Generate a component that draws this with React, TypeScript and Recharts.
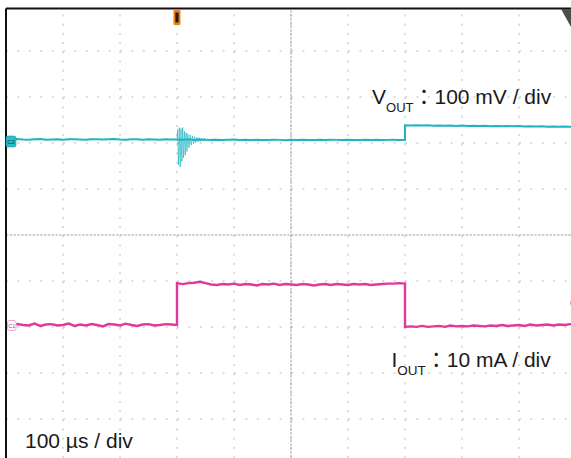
import React from "react";
import { LineChart, Line, XAxis, YAxis, CartesianGrid, ReferenceLine, ReferenceDot } from "recharts";

// ---- time axis (µs), 100 µs / div ----
const X_DOMAIN = [-300, 700];
const X_TICKS = [-300, -200, -100, 0, 100, 200, 300, 400, 500, 600, 700];
const X_CENTER = 200;

// ---- division axis (screen grid) ----
const DIV_DOMAIN = [-5, 4.924];
const DIV_TICKS = [-5, -4, -3, -2, -1, 1, 2, 3, 4];

// ---- channel scales ----
const VOUT_DOMAIN = [-707.6, 284.8]; // mV, 100 mV / div
const IOUT_DOMAIN = [-30.43, 68.8]; // mA, 10 mA / div

// ---- VOUT trace (mV, relative to channel offset) ----
const vTimes = [
  -300, -290, -280, -270, -260, -250, -240, -230, -220, -210, -200, -190, -180, -170, -160,
  -150, -140, -130, -120, -110, -100, -90, -80, -70, -60, -50, -40, -30, -20, -10,
  0, 10, 20, 30, 40, 50,
  60, 70, 80, 90, 100, 110, 120, 130, 140, 150, 160, 170, 180, 190, 200, 210, 220, 230, 240,
  250, 260, 270, 280, 290, 300, 310, 320, 330, 340, 350, 360, 370, 380, 390,
  400, 400,
  410, 420, 430, 440, 450, 460, 470, 480, 490, 500, 510, 520, 530, 540, 550, 560, 570, 580,
  590, 600, 610, 620, 630, 640, 650, 660, 670, 680, 690, 700,
];
const vValues = [
  0.4, -0.6, 0.9, 0.1, -0.4, 0.6, 1.0, -0.3, 0.2, 0.7, -0.5, 0.3, 0.8, 0.1, -0.7,
  0.4, 0.6, -0.2, 0.5, 0.9, -0.1, -0.4, 0.7, 0.3, -0.3, 0.6, 0.2, -0.5, 0.4, 0.2,
  0.0, -0.5, 0.3, -0.8, 0.2, -0.5,
  -0.8, -0.3, -1.1, -0.6, -0.2, -1.0, -0.7, -1.3, -0.4, -0.9, -1.2, -0.5, -0.8, -1.4, -0.6,
  -1.0, -0.3, -0.9, -1.1, -0.7, -1.3, -0.5, -0.8, -1.0, -0.4, -1.2, -0.9, -0.6, -1.1, -0.7,
  -1.3, -0.8, -0.5, -1.0,
  -1.0, 31,
  30.5, 31.2, 30.2, 30.8, 29.9, 30.6, 30.0, 30.4, 29.6, 30.2, 29.5, 29.9, 29.2, 29.8, 29.0,
  29.5, 28.8, 29.3, 28.6, 29.1, 28.4, 28.9, 28.3, 28.7, 28.0, 28.5, 27.9, 28.3, 27.8, 28.1,
];

// ---- VOUT ringing after the load step (mV) ----
const ringTimes = [
  0, 1, 2.5, 4, 5.5, 7, 8.5, 10, 11.5, 13, 14.5, 16, 17.5, 19, 21, 23, 25, 27, 29, 31, 33, 35,
  37, 39, 41, 43.5, 46, 48.5, 51, 54, 57, 60, 63, 66, 70,
];
const ringValues = [
  0, 22, -55, 26, -60, 24, -48, 26, -40, 18, -34, 15, -26, 12, -18, 10, -12, 8, -9, 6, -7, 5,
  -5, 4, -4, 3, -3, 2.5, -2.5, 2, -2, 1.5, -1.5, 1, 0,
];

// ---- IOUT trace (mA) ----
const iTimes = [
  -300, -290, -280, -270, -260, -250, -240, -230, -220, -210, -200, -190, -180, -170, -160,
  -150, -140, -130, -120, -110, -100, -90, -80, -70, -60, -50, -40, -30, -20, -10,
  0, 0,
  10, 20, 30, 40, 50, 60, 70, 80, 90, 100, 110, 120, 130, 140, 150, 160, 170, 180, 190, 200,
  210, 220, 230, 240, 250, 260, 270, 280, 290, 300, 310, 320, 330, 340, 350, 360, 370, 380, 390,
  400, 400,
  410, 420, 430, 440, 450, 460, 470, 480, 490, 500, 510, 520, 530, 540, 550, 560, 570, 580,
  590, 600, 610, 620, 630, 640, 650, 660, 670, 680, 690, 700,
];
const iValues = [
  0.1, -0.2, 0.2, 0.0, -0.1, 0.3, -0.2, 0.1, 0.2, -0.1, 0.0, 0.3, -0.2, 0.1, -0.1,
  0.2, 0.0, -0.3, 0.2, 0.1, -0.1, 0.3, 0.0, -0.2, 0.1, 0.2, -0.1, 0.0, 0.2, 0.1,
  0.0, 9.1,
  8.9, 9.1, 9.2, 9.4, 9.1, 8.8, 8.7, 8.9, 8.8, 9.0, 8.7, 8.9, 8.8, 8.6, 8.9, 8.8, 9.0, 8.7, 8.9,
  8.8, 8.7, 8.9, 8.8, 8.6, 8.8, 8.9, 8.7, 8.9, 8.8, 8.7, 8.9, 8.8, 8.9, 8.7, 8.8, 8.9, 9.0, 9.0, 9.1,
  9.0, -0.4,
  -0.3, -0.4, -0.2, -0.4, -0.3, -0.2, -0.4, -0.1, -0.3, -0.2, -0.3, -0.1, -0.2, -0.3, -0.1,
  -0.2, 0.0, -0.2, -0.1, 0.0, -0.2, 0.1, -0.1, 0.0, 0.1, -0.1, 0.1, 0.0, 0.2, 0.1,
];

const IOUT_TRIGGER_LEVEL = 4.8; // mA

const vData = vTimes.map((t, k) => ({ t, v: vValues[k] }));
const ringData = ringTimes.map((t, k) => ({ t, v: ringValues[k] }));
const iData = iTimes.map((t, k) => ({ t, v: iValues[k] }));

const CYAN = "#1fb4c2";
const PINK = "#e2389a";
const FONT = "'Liberation Sans', Arial, 'Noto Sans CJK JP', sans-serif";

const C2Marker = (p: any) => (
  <g>
    <rect x={p.cx} y={p.cy - 3.5} width={10} height={11} rx={2} fill="#2bbcc6" stroke="#1a9aa5" strokeWidth={0.6} />
    <text x={p.cx + 5} y={p.cy + 4.5} fontSize={6} textAnchor="middle" fill="#0b3b40" fontFamily={FONT}>C2</text>
  </g>
);
const C1Marker = (p: any) => (
  <g>
    <rect x={p.cx + 1.5} y={p.cy - 4.5} width={8.5} height={10} rx={2} fill="#fff" stroke="#f2a6cf" strokeWidth={1} />
    <text x={p.cx + 5.8} y={p.cy + 2.5} fontSize={5.5} textAnchor="middle" fill="#a05080" fontFamily={FONT}>C1</text>
  </g>
);
const TMarker = (p: any) => (
  <g>
    <rect x={p.cx - 3.5} y={p.cy + 1.5} width={7} height={15} rx={1} fill="#e8841f" />
    <rect x={p.cx - 1.6} y={p.cy + 4} width={3.2} height={10} fill="#2a1a08" />
  </g>
);
const TrigLevelMarker = (p: any) => (
  <circle cx={p.cx} cy={p.cy} r={5} fill="#f7c0dc" stroke={PINK} strokeWidth={1.2} />
);

export default function App() {
  return (
    <div style={{ position: "absolute", left: 0, top: 0, width: 571, height: 458, overflow: "hidden", background: "#fff" }}>
      <LineChart width={576} height={466} margin={{ top: 8.5, right: 0, bottom: 1, left: 6 }}>
        <XAxis type="number" dataKey="t" domain={X_DOMAIN} ticks={X_TICKS} hide allowDataOverflow />
        <YAxis type="number" domain={DIV_DOMAIN} ticks={DIV_TICKS} hide allowDataOverflow />
        <YAxis yAxisId="v" type="number" domain={VOUT_DOMAIN} hide allowDataOverflow />
        <YAxis yAxisId="i" type="number" domain={IOUT_DOMAIN} hide allowDataOverflow />
        <CartesianGrid horizontal={false} stroke="#b8b8b8" strokeWidth={1} strokeDasharray="2 7.2" strokeDashoffset={3.2} />
        <CartesianGrid vertical={false} stroke="#b8b8b8" strokeWidth={1} strokeDasharray="2 9.4" />
        <ReferenceLine y={0} stroke="#a0a0a0" strokeWidth={1} strokeDasharray="2.5 1.3" />
        <ReferenceLine x={X_CENTER} stroke="#a0a0a0" strokeWidth={1} strokeDasharray="2.5 1.3" />
        <Line data={vData} dataKey="v" yAxisId="v" type="linear" stroke={CYAN} strokeWidth={2} dot={false} isAnimationActive={false} />
        <Line data={ringData} dataKey="v" yAxisId="v" type="linear" stroke={CYAN} strokeOpacity={0.75} strokeWidth={0.9} dot={false} isAnimationActive={false} />
        <Line data={iData} dataKey="v" yAxisId="i" type="linear" stroke={PINK} strokeWidth={2.4} dot={false} isAnimationActive={false} />
        <ReferenceDot x={X_DOMAIN[0]} y={0} yAxisId="v" shape={C2Marker} />
        <ReferenceDot x={X_DOMAIN[0]} y={0} yAxisId="i" shape={C1Marker} />
        <ReferenceDot x={0} y={DIV_DOMAIN[1]} shape={TMarker} />
        <ReferenceDot x={X_DOMAIN[1]} y={IOUT_TRIGGER_LEVEL} yAxisId="i" shape={TrigLevelMarker} />
        <ReferenceLine x={X_DOMAIN[0]} stroke="#111" strokeWidth={2} />
        <ReferenceLine y={DIV_DOMAIN[1]} stroke="#111" strokeWidth={2} />
      </LineChart>
      <svg width={571} height={458} style={{ position: "absolute", left: 0, top: 0, pointerEvents: "none" }}>
        <polygon points="561,9 571,9 571,27" fill="#4d4d4d" />
        <text x={372} y={104} fontSize={21} fill="#1a1a1a" fontFamily={FONT}>
          V<tspan fontSize={13} dy={8}>OUT</tspan><tspan fontSize={21} dy={-8}>：100 mV / div</tspan>
        </text>
        <text x={391.5} y={367} fontSize={21} fill="#1a1a1a" fontFamily={FONT}>
          I<tspan fontSize={13.5} dy={8}>OUT</tspan><tspan fontSize={21} dy={-8}>：10 mA / div</tspan>
        </text>
        <text x={25} y={448} fontSize={21} fill="#1a1a1a" fontFamily={FONT}>100 µs / div</text>
      </svg>
    </div>
  );
}
